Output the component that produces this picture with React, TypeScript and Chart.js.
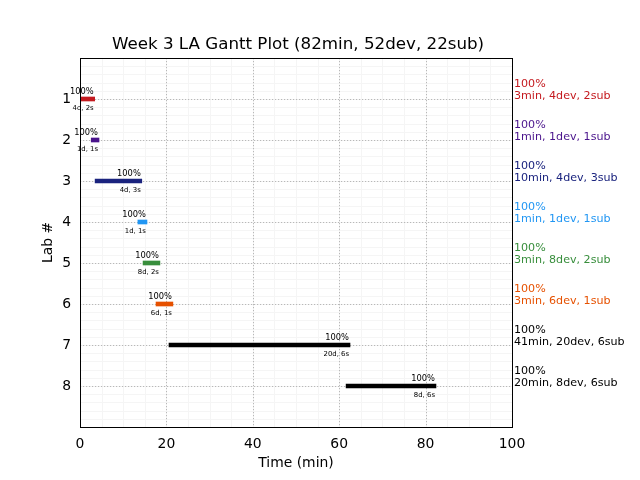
import { useEffect, useRef } from 'react';
import { Chart, registerables } from 'chart.js';

Chart.register(...registerables);

const chartTitle = 'Week 3 LA Gantt Plot (82min, 52dev, 22sub)';
const labs = [1, 2, 3, 4, 5, 6, 7, 8];
const starts = [0, 2.6, 3.5, 13.4, 14.6, 17.6, 20.6, 61.6];
const ends = [3.4, 4.4, 14.3, 15.5, 18.5, 21.5, 62.5, 82.4];
const pctLabels = ['100%', '100%', '100%', '100%', '100%', '100%', '100%', '100%'];
const detailLabels = ['4d, 2s', '1d, 1s', '4d, 3s', '1d, 1s', '8d, 2s', '6d, 1s', '20d, 6s', '8d, 6s'];
const summaryLabels = [
  '3min, 4dev, 2sub',
  '1min, 1dev, 1sub',
  '10min, 4dev, 3sub',
  '1min, 1dev, 1sub',
  '3min, 8dev, 2sub',
  '3min, 6dev, 1sub',
  '41min, 20dev, 6sub',
  '20min, 8dev, 6sub',
];
const colors = ['#c41a1f', '#4a148c', '#1a237e', '#2196f3', '#388e3c', '#e65100', '#000000', '#000000'];
const xTicks = [0, 20, 40, 60, 80, 100];

const FONT = "'DejaVu Sans', sans-serif";

export default function App() {
  const ref = useRef<HTMLCanvasElement | null>(null);

  useEffect(() => {
    document.body.style.margin = '0';
    const canvas = ref.current;
    if (!canvas) return;

    const decor = {
      id: 'decor',
      beforeDatasetsDraw(chart: any) {
        const { ctx, chartArea: a, scales } = chart;
        const xs = scales.x;
        const ys = scales.y;
        ctx.save();
        // minor grid
        ctx.strokeStyle = '#f5f5f5';
        ctx.lineWidth = 1;
        ctx.setLineDash([]);
        for (let v = 0; v <= 100; v += 5) {
          const px = Math.round(xs.getPixelForValue(v)) + 0.5;
          ctx.beginPath();
          ctx.moveTo(px, a.top);
          ctx.lineTo(px, a.bottom);
          ctx.stroke();
        }
        for (let i = 0; i <= 45; i++) {
          const py = Math.round(ys.getPixelForValue(i * 0.2)) + 0.5;
          ctx.beginPath();
          ctx.moveTo(a.left, py);
          ctx.lineTo(a.right, py);
          ctx.stroke();
        }
        // major grid
        ctx.strokeStyle = '#b8b8b8';
        ctx.setLineDash([1.2, 1.8]);
        xTicks.forEach((v) => {
          const px = Math.round(xs.getPixelForValue(v)) + 0.5;
          ctx.beginPath();
          ctx.moveTo(px, a.top);
          ctx.lineTo(px, a.bottom);
          ctx.stroke();
        });
        labs.forEach((v) => {
          const py = Math.round(ys.getPixelForValue(v)) + 0.5;
          ctx.beginPath();
          ctx.moveTo(a.left, py);
          ctx.lineTo(a.right, py);
          ctx.stroke();
        });
        ctx.restore();
      },
      afterDatasetsDraw(chart: any) {
        const { ctx, chartArea: a, scales } = chart;
        const xs = scales.x;
        const ys = scales.y;
        ctx.save();
        // frame
        ctx.strokeStyle = '#000';
        ctx.lineWidth = 1;
        ctx.setLineDash([]);
        ctx.strokeRect(Math.round(a.left) + 0.5, Math.round(a.top) + 0.5, Math.round(a.right - a.left), Math.round(a.bottom - a.top));

        // bar labels
        labs.forEach((lab, i) => {
          const ex = xs.getPixelForValue(ends[i]);
          const py = ys.getPixelForValue(lab);
          ctx.fillStyle = '#000';
          ctx.textAlign = 'right';
          ctx.textBaseline = 'middle';
          ctx.font = `8.3px ${FONT}`;
          ctx.fillText(pctLabels[i], ex - 1, py - 7);
          ctx.font = `6.9px ${FONT}`;
          ctx.fillText(detailLabels[i], ex - 1, py + 9);
          // right-side summary
          ctx.fillStyle = colors[i];
          ctx.textAlign = 'left';
          ctx.font = `11.1px ${FONT}`;
          ctx.fillText(pctLabels[i], a.right + 2, py - 15);
          ctx.fillText(summaryLabels[i], a.right + 2, py - 3);
        });

        // title and axis titles
        ctx.fillStyle = '#000';
        ctx.textAlign = 'center';
        ctx.textBaseline = 'middle';
        ctx.font = `16.7px ${FONT}`;
        ctx.fillText(chartTitle, (a.left + a.right) / 2 + 2, 45);
        ctx.font = `13.9px ${FONT}`;
        ctx.fillText('Time (min)', (a.left + a.right) / 2, 463);
        ctx.translate(48, (a.top + a.bottom) / 2);
        ctx.rotate(-Math.PI / 2);
        ctx.fillText('Lab #', 0, 0);
        ctx.restore();
      },
    };

    const chart = new Chart(canvas, {
      type: 'bar',
      data: {
        datasets: [
          {
            data: labs.map((lab, i) => ({ x: [starts[i], ends[i]], y: lab })) as any,
            backgroundColor: colors,
            borderWidth: 0,
            barThickness: 4,
            grouped: false,
          } as any,
        ],
      },
      options: {
        indexAxis: 'y',
        responsive: false,
        animation: false,
        layout: { padding: { left: 0, right: 128, top: 58, bottom: 0 } },
        plugins: {
          legend: { display: false },
          title: { display: false },
          tooltip: { enabled: false },
        },
        scales: {
          x: {
            type: 'linear',
            min: 0,
            max: 100,
            offset: false,
            grid: { display: false, drawTicks: false },
            border: { display: false },
            afterBuildTicks: (s: any) => {
              s.ticks = xTicks.map((v) => ({ value: v }));
            },
            afterFit: (s: any) => {
              s.height = 53;
            },
            ticks: {
              color: '#000',
              padding: 9,
              maxRotation: 0,
              autoSkip: false,
              font: { family: FONT, size: 13.9 },
            },
          },
          y: {
            type: 'linear',
            min: 0,
            max: 9,
            reverse: true,
            offset: false,
            grid: { display: false, drawTicks: false },
            border: { display: false },
            afterBuildTicks: (s: any) => {
              s.ticks = labs.map((v) => ({ value: v }));
            },
            afterFit: (s: any) => {
              s.width = 80;
            },
            ticks: {
              color: '#000',
              padding: 9,
              autoSkip: false,
              font: { family: FONT, size: 13.9 },
            },
          },
        },
      },
      plugins: [decor],
    });

    return () => chart.destroy();
  }, []);

  return (
    <div style={{ position: 'absolute', left: 0, top: 0, width: 640, height: 480, background: '#fff' }}>
      <canvas ref={ref} width={640} height={480} style={{ display: 'block' }} />
    </div>
  );
}
